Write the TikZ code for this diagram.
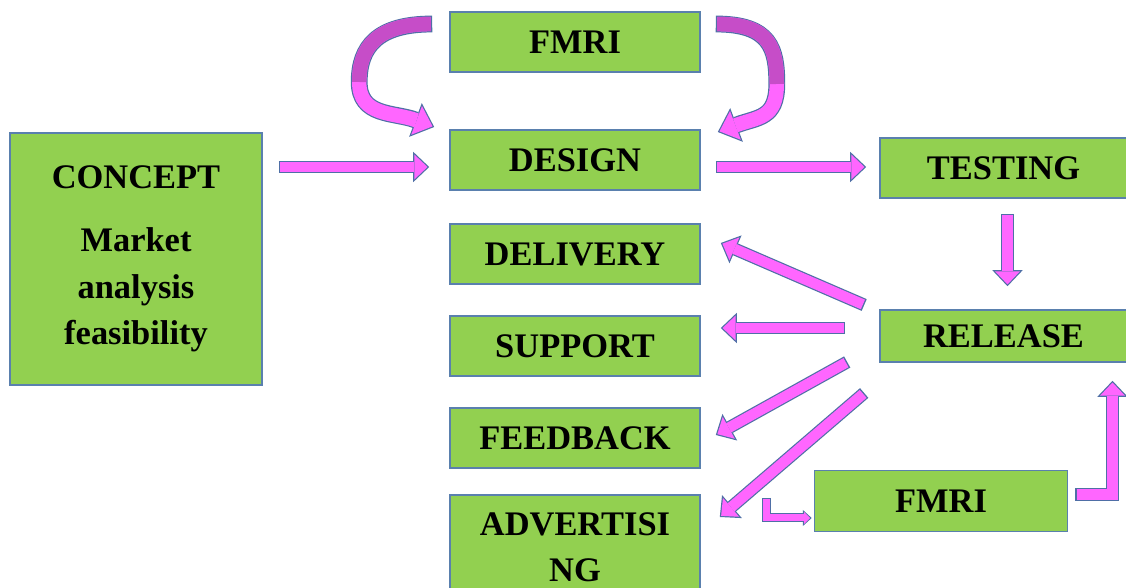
\documentclass[tikz,border=0pt]{standalone}
\usepackage{fontspec}
\setmainfont{Liberation Serif}
\usepackage{tikz}
\usepackage{xcolor}
\usetikzlibrary{arrows.meta, positioning, calc}

\definecolor{boxgreen}{HTML}{92D050}
\definecolor{boxline}{HTML}{5A80AE}
\definecolor{flowpink}{HTML}{FF66FF}
\definecolor{flowline}{HTML}{4F6FA6}
\definecolor{ribbonpurple}{HTML}{C64DC8}

\tikzset{
  stage/.style={draw=boxline, line width=0.4mm, fill=boxgreen, minimum width=62.5mm, minimum height=15mm,
    inner sep=0pt, align=center, font=\fontsize{24.5}{33}\selectfont\bfseries},
  flow/.style={draw=flowpink, line width=2.6mm, shorten <=0.35mm, shorten >=0.44mm,
    -{Triangle[length=3.26mm, width=6.2mm, line width=0pt]},
    preaction={draw=flowline, line width=3.2mm, shorten <=0pt, shorten >=0pt,
      -{Triangle[length=4mm, width=7.6mm, line width=0pt]}}},
  thinflow/.style={draw=flowpink, line width=1.75mm, shorten <=0.3mm, shorten >=0.37mm,
    -{Triangle[length=1.5mm, width=2.9mm, line width=0pt]},
    preaction={draw=flowline, line width=2.25mm, shorten <=0pt, shorten >=0pt,
      -{Triangle[length=2.2mm, width=4mm, line width=0pt]}}},
  curveflow/.style={draw=flowpink, line width=3.6mm, shorten <=0.35mm, shorten >=0.45mm,
    -{Triangle[length=4.25mm, width=7.65mm, line width=0pt]},
    preaction={draw=flowline, line width=4.2mm, shorten <=0pt, shorten >=0pt,
      -{Triangle[length=5mm, width=9mm, line width=0pt]}}},
  ribbon/.style={draw=ribbonpurple, line width=3.6mm, shorten <=0.35mm},
}

\begin{document}
\begin{tikzpicture}[x=0.25mm, y=-0.25mm]
\useasboundingbox (0,0) rectangle (1126,588);

% Stages
\node[stage, minimum width=63mm, minimum height=63mm] (concept) at (136,259)
  {CONCEPT\\[12pt]Market\\analysis\\feasibility};
\node[stage] (fmritop) at (575,42) {FMRI};
\node[stage] (design) at (575,160) {DESIGN};
\node[stage, minimum width=61.75mm] (testing) at (1003.5,168) {TESTING};
\node[stage, minimum width=61.75mm, minimum height=13mm] (release) at (1003.5,336) {RELEASE};
\node[stage] (delivery) at (575,254) {DELIVERY};
\node[stage] (support) at (575,346) {SUPPORT};
\node[stage] (feedback) at (575,438) {FEEDBACK};
\node[stage, minimum height=26.25mm] (advert) at (575,547.5) {ADVERTISI\\NG};
\node[stage, minimum width=63.25mm, minimum height=15.25mm] (fmribot) at (941,501) {FMRI};

% Main line
\draw[flow] ($(concept.east |- design.west)+(16,7)$) -- ($(design.west)+(-20,7)$);
\draw[flow] ($(design.east)+(15,7)$) -- ($(testing.west)+(-13,-1)$);
\draw[flow] ($(testing.south)+(4,15)$) -- ($(release.north)+(4,-23)$);

% Release feeds the column
\draw[flow] ($(release.west)+(-15,-31)$) -- ($(delivery.east)+(20,-11)$);
\draw[flow] ($(release.west)+(-34,-8)$) -- ($(support.east)+(20,-18)$);
\draw[flow] ($(release.west)+(-32,26)$) -- ($(feedback.east)+(15,-3)$);
\draw[flow] ($(release.west)+(-15,57)$) -- ($(advert.east)+(19,-30.5)$);

% Second FMRI loop
\draw[thinflow] ($(fmribot.west)+(-47.5,-3)$) |- ($(fmribot.west)+(-2,17)$);
\draw[flow] ($(fmribot.east)+(7,-6.5)$) -| ($(release.south)+(109,18)$);

% FMRI back into design
\draw[curveflow] ($(fmritop.west)+(-17,-18)$) .. controls +(-55,0) and +(0,-35) .. ($(fmritop.west)+(-90,40)$)
  .. controls +(0,35) and +(-40,-15) .. ($(design.west)+(-15,-33)$);
\draw[ribbon] ($(fmritop.west)+(-17,-18)$) .. controls +(-55,0) and +(0,-35) .. ($(fmritop.west)+(-90,40)$);
\draw[curveflow] ($(fmritop.east)+(15,-18)$) .. controls +(55,0) and +(0,-35) .. ($(fmritop.east)+(76,42)$)
  .. controls +(0,35) and +(40,-15) .. ($(design.east)+(17,-28)$);
\draw[ribbon] ($(fmritop.east)+(15,-18)$) .. controls +(55,0) and +(0,-35) .. ($(fmritop.east)+(76,42)$);
\end{tikzpicture}
\end{document}
